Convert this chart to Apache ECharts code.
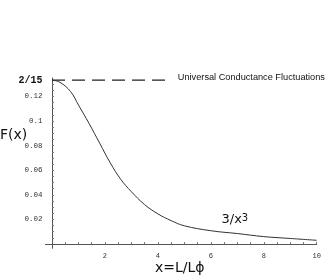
<!DOCTYPE html>
<html>
<head>
<meta charset="utf-8">
<script src="https://cdn.jsdelivr.net/npm/echarts@6/dist/echarts.min.js"></script>
<style>
html,body{margin:0;padding:0;background:#fff;}
#chart{width:327px;height:275px;}
</style>
</head>
<body>
<div id="chart"></div>
<script>
// Data
var xValues = [0, 0.3, 0.7, 1.0, 1.4, 1.8, 2.2, 2.6, 3.0, 3.5, 4.0, 4.5, 5.0, 6.0, 7.0, 8.0, 9.0, 10];
var fValues = [0.1333, 0.1315, 0.124, 0.113, 0.098, 0.082, 0.066, 0.0525, 0.0425, 0.032, 0.0245, 0.019, 0.0148, 0.0108, 0.0085, 0.006, 0.0045, 0.003];
var ucfLevel = 2 / 15;
var ucfX = [0, 4.3];
var ucfText = 'Universal Conductance Fluctuations';
var xTickLabels = [2, 4, 6, 8, 10];
var yTickLabels = [0.02, 0.04, 0.06, 0.08, 0.1, 0.12];
var yTopLabel = '2/15';

var xTicks = [];
for (var i = 1; i <= 20; i++) xTicks.push(i * 0.5);
var yTicks = [];
for (var j = 1; j <= 26; j++) yTicks.push(+(j * 0.005).toFixed(3));
yTicks.push(ucfLevel);

var curve = xValues.map(function (x, k) { return [x, fValues[k]]; });
var ucfData = ucfX.map(function (x) { return [x, ucfLevel]; });

var chart = echarts.init(document.getElementById('chart'), null, { renderer: 'canvas' });
chart.setOption({
  animation: false,
  backgroundColor: '#fff',
  grid: { left: 45.4, right: 10.3, top: 78, bottom: 26.7 },
  xAxis: {
    type: 'value', min: -0.25, max: 10,
    splitLine: { show: false },
    axisLine: { onZero: true, lineStyle: { color: '#555', width: 1 } },
    axisTick: { show: true, inside: true, length: 2, customValues: xTicks, lineStyle: { color: '#777' } },
    axisLabel: {
      customValues: xTickLabels, margin: 4,
      fontFamily: 'Liberation Mono', fontSize: 7, color: '#333'
    }
  },
  yAxis: {
    type: 'value', min: -0.0035, max: 0.135,
    splitLine: { show: false },
    axisLine: { onZero: true, lineStyle: { color: '#555', width: 1 } },
    axisTick: { show: true, inside: true, length: 2, customValues: yTicks, lineStyle: { color: '#777' } },
    axisLabel: {
      customValues: yTickLabels.concat([ucfLevel]), margin: 3,
      fontFamily: 'Liberation Mono', fontSize: 7.5, color: '#333',
      formatter: function (v) {
        if (Math.abs(v - ucfLevel) < 1e-6) return '{t|' + yTopLabel + '}';
        return String(+v.toFixed(2));
      },
      rich: { t: { fontFamily: 'Liberation Mono', fontSize: 10, color: '#111', fontWeight: 'bold' } }
    }
  },
  series: [
    {
      type: 'line', data: ucfData, symbol: 'none', silent: true,
      lineStyle: { color: '#222', width: 1.2, type: [13, 7] },
      endLabel: {
        show: true, distance: 12, offset: [0, -2.5],
        formatter: ucfText, color: '#111',
        fontFamily: 'Liberation Sans', fontSize: 9.2
      }
    },
    {
      type: 'line', data: curve, symbol: 'none', smooth: 0.4,
      lineStyle: { color: '#333', width: 1 }
    }
  ],
  graphic: [
    { type: 'text', left: 0, top: 128,
      style: { text: 'F(x)', font: '14px "DejaVu Sans"', fill: '#111' } },
    { type: 'text', left: 155, top: 261,
      style: { text: 'x=L/L\u03D5', font: '14px "DejaVu Sans"', fill: '#111' } },
    { type: 'text', left: 221.5, top: 213.5,
      style: {
        text: '{a|3/x}{s|3}',
        rich: {
          a: { fontFamily: 'DejaVu Sans', fontSize: 13, lineHeight: 13, verticalAlign: 'bottom', fill: '#111' },
          s: { fontFamily: 'DejaVu Sans', fontSize: 10, lineHeight: 10, verticalAlign: 'top', padding: [0, 0, 5, 0], fill: '#111' }
        }
      } }
  ]
});
</script>
</body>
</html>
